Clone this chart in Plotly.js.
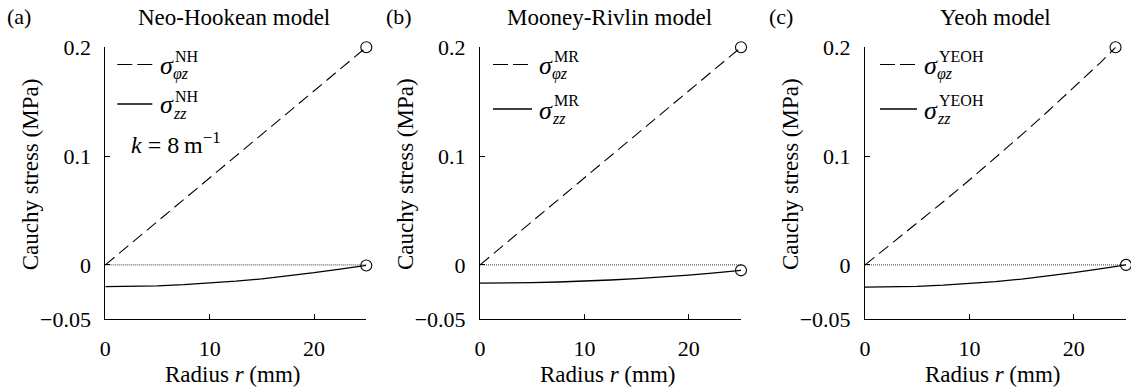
<!DOCTYPE html>
<html>
<head>
<meta charset="utf-8">
<script src="https://cdn.plot.ly/plotly-3.0.1.min.js"></script>
<style>
html,body{margin:0;padding:0;background:#fff;}
#chart{width:1131px;height:390px;}
</style>
</head>
<body>
<div id="chart"></div>
<script>
// ---- data ----
const panelLetters = ['(a)', '(b)', '(c)'];
const panelTitles = ['Neo-Hookean model', 'Mooney-Rivlin model', 'Yeoh model'];
const modelTags = ['NH', 'MR', 'YEOH'];

const radiusMM = [0, 2.5, 5, 7.5, 10, 12.5, 15, 17.5, 20, 22.5, 25];
const radiusYeohShear = [0, 2.5, 5, 7.5, 10, 12.5, 15, 17.5, 20, 22.5, 24.0];

const shearNH = [0, 0.020, 0.040, 0.060, 0.080, 0.100, 0.120, 0.140, 0.160, 0.180, 0.200];
const normalNH = [-0.0200, -0.0198, -0.0192, -0.0182, -0.0168, -0.0150, -0.0128, -0.0102, -0.0072, -0.0038, -0.0005];

const shearMR = [0, 0.020, 0.040, 0.060, 0.080, 0.100, 0.120, 0.140, 0.160, 0.180, 0.200];
const normalMR = [-0.0168, -0.0167, -0.0163, -0.0157, -0.0149, -0.0139, -0.0126, -0.0112, -0.0094, -0.0074, -0.0050];

const shearYEOH = [0, 0.0192, 0.0385, 0.0580, 0.0780, 0.0985, 0.1195, 0.1410, 0.1630, 0.1855, 0.2000];
const normalYEOH = [-0.0205, -0.0203, -0.0197, -0.0186, -0.0171, -0.0153, -0.0130, -0.0103, -0.0072, -0.0037, 0.0000];

const xTickVals = [0, 10, 20];
const xTickText = ['0', '10', '20'];
const yTickVals = [-0.05, 0, 0.1, 0.2];
const yTickText = ['\u22120.05', '0', '0.1', '0.2'];
const xRange = [0, 25];
const yRange = [-0.05, 0.2];

// ---- layout helpers ----
const W = 1131, H = 390;
const FONT = 'Liberation Serif';
const px = v => v / W;
const py = v => 1 - v / H;

const axisLeft = [105.3, 480.0, 865.0];
const axisWidth = 261.0;
const plotTop = 47.3, plotBottom = 319.3;

const shearX = [radiusMM, radiusMM, radiusYeohShear];
const shearY = [shearNH, shearMR, shearYEOH];
const normalX = [radiusMM, radiusMM, radiusMM];
const normalY = [normalNH, normalMR, normalYEOH];

const traces = [];
const layout = {
  width: W, height: H,
  margin: {l: 0, r: 0, t: 0, b: 0},
  paper_bgcolor: '#fff', plot_bgcolor: '#fff',
  showlegend: false,
  font: {family: FONT, size: 20, color: '#000'},
  annotations: [], shapes: []
};

for (let i = 0; i < 3; i++) {
  const sfx = i === 0 ? '' : String(i + 1);
  const xa = 'x' + sfx, ya = 'y' + sfx;

  // zero reference (dotted)
  traces.push({x: xRange, y: [0, 0], xaxis: xa, yaxis: ya, mode: 'lines',
    line: {color: '#000', width: 0.8, dash: '1px,1px'}, hoverinfo: 'skip'});
  // shear stress (dashed)
  traces.push({x: shearX[i], y: shearY[i], xaxis: xa, yaxis: ya, mode: 'lines',
    line: {color: '#000', width: 1.1, dash: '12px,6px'}, cliponaxis: false});
  // normal stress (solid)
  traces.push({x: normalX[i], y: normalY[i], xaxis: xa, yaxis: ya, mode: 'lines',
    line: {color: '#000', width: 1.3}, cliponaxis: false});
  // end-point circles
  const sx = shearX[i], sy = shearY[i], nx = normalX[i], ny = normalY[i];
  traces.push({x: [sx[sx.length - 1], nx[nx.length - 1]], y: [sy[sy.length - 1], ny[ny.length - 1]],
    xaxis: xa, yaxis: ya, mode: 'markers', cliponaxis: false,
    marker: {symbol: 'circle-open', size: 11, color: '#000', line: {width: 1.1, color: '#000'}}});

  const L = axisLeft[i];
  layout['xaxis' + sfx] = {
    domain: [px(L), px(L + axisWidth)], anchor: ya, range: xRange,
    tickvals: xTickVals, ticktext: xTickText, ticks: 'inside', ticklen: 5, tickwidth: 1, tickcolor: '#000',
    showline: true, linecolor: '#000', linewidth: 1, showgrid: false, zeroline: false,
    ticklabelstandoff: 9, tickfont: {family: FONT, size: 22, color: '#000'}
  };
  layout['yaxis' + sfx] = {
    domain: [py(plotBottom), py(plotTop)], anchor: xa, range: yRange,
    tickvals: yTickVals, ticktext: yTickText, ticks: 'inside', ticklen: 5, tickwidth: 1, tickcolor: '#000',
    showline: true, linecolor: '#000', linewidth: 1, showgrid: false, zeroline: false,
    ticklabelstandoff: 9, tickfont: {family: FONT, size: 22, color: '#000'}
  };

  const ann = layout.annotations;
  const txt = (x, y, text, size, extra) => ann.push(Object.assign({
    xref: 'paper', yref: 'paper', x: px(x), y: py(y), text: text, showarrow: false,
    xanchor: 'center', yanchor: 'middle', font: {family: FONT, size: size, color: '#000'}
  }, extra || {}));

  // panel letter and title
  const letterX = [19, 398.5, 781][i];
  const titleX = [234, 609, 996][i];
  txt(letterX, 17, panelLetters[i], 22);
  txt(titleX, 17.5, panelTitles[i], 23);
  // axis titles
  txt(L - 75, 174, 'Cauchy stress (MPa)', 23, {textangle: -90});
  txt(L + axisWidth / 2 - 3, 374, 'Radius <i>r</i> (mm)', 23);

  // legend
  const off = [[12, 47, 53], [13, 52, 57], [15, 52, 57]][i];
  const row1 = 64.5, row2 = [104, 109, 109][i];
  layout.shapes.push({type: 'line', xref: 'paper', yref: 'paper',
    x0: px(L + off[0]), x1: px(L + off[1]), y0: py(row1), y1: py(row1),
    line: {color: '#000', width: 1.1, dash: '15px,5px'}});
  layout.shapes.push({type: 'line', xref: 'paper', yref: 'paper',
    x0: px(L + off[0]), x1: px(L + off[1]), y0: py(row2), y1: py(row2),
    line: {color: '#000', width: 1.3}});
  const sgX = L + off[2];
  [[row1, '\u03c6z'], [row2, 'zz']].forEach(([ry, sub]) => {
    txt(sgX, ry + 1, '<i>\u03c3</i>', 26, {xanchor: 'left'});
    txt(sgX + 15, ry - 8, modelTags[i], 16, {xanchor: 'left'});
    txt(sgX + 13, ry + 9, '<i>' + sub + '</i>', 16, {xanchor: 'left'});
  });
  if (i === 0) {
    txt(L + 71, 143, '<i>k</i> = 8\u2009m<sup>\u22121</sup>', 24);
  }
}

Plotly.newPlot('chart', traces, layout, {displayModeBar: false, staticPlot: true});
</script>
</body>
</html>
